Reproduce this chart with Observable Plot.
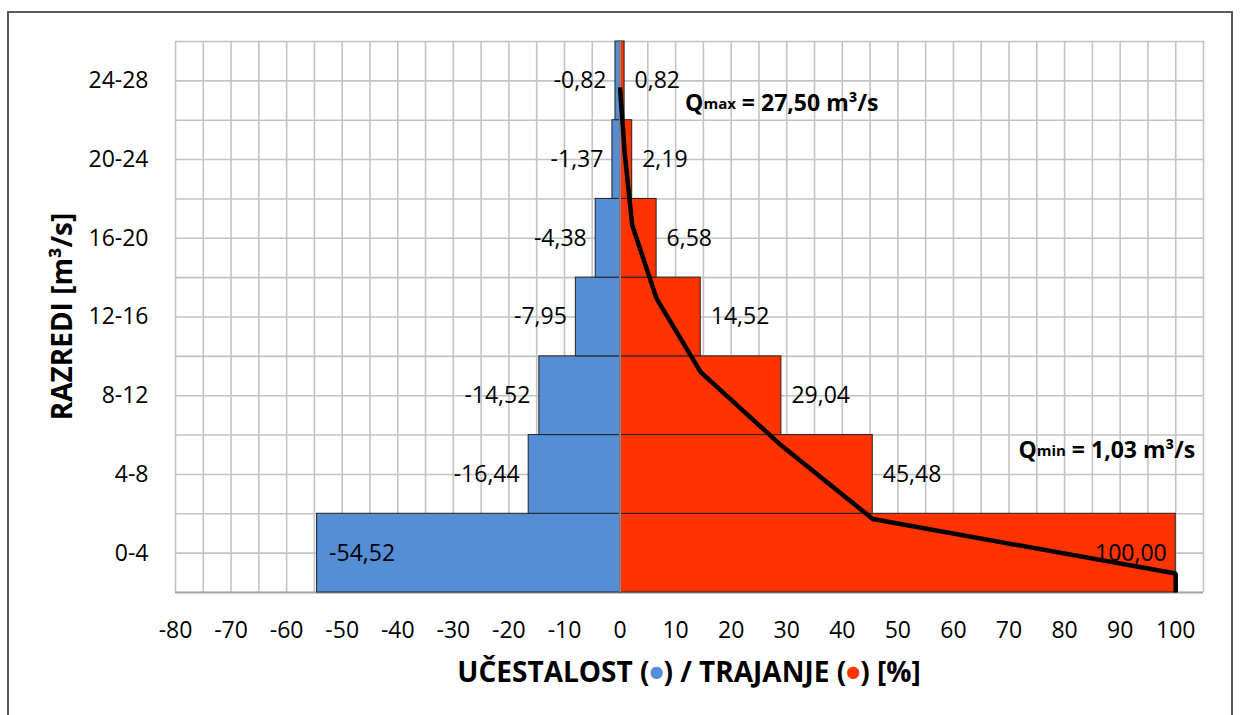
<!DOCTYPE html>
<html><head><meta charset="utf-8">
<script src="https://cdn.jsdelivr.net/npm/d3@7"></script>
<script src="https://cdn.jsdelivr.net/npm/@observablehq/plot@0.6"></script>
<style>
body{margin:0;background:#fff;}
#wrap{position:relative;width:1241px;height:715px;overflow:hidden;background:#fff;}
#border{position:absolute;left:7px;top:11px;width:1226px;height:730px;border:2px solid #595959;box-sizing:border-box;pointer-events:none;}
#wrap svg{position:absolute;left:0;top:0;}
</style></head><body><div id="wrap"><div id="border"></div></div>
<script>
// ---- data ----
const classes = ["0-4","4-8","8-12","12-16","16-20","20-24","24-28"];
const ucestalost = [54.52, 16.44, 14.52, 7.95, 4.38, 1.37, 0.82];   // frequency [%] (plotted to the left)
const trajanje   = [100.00, 45.48, 29.04, 14.52, 6.58, 2.19, 0.82]; // duration [%] (plotted to the right)
const qMin = 1.03, qMax = 27.50;
const xTicks = [-80,-70,-60,-50,-40,-30,-20,-10,0,10,20,30,40,50,60,70,80,90,100];
const xDomain = [-80, 105];
const yDomain = [0, 28];
const secondaryMax = 30; // secondary (discharge) axis maximum used by the duration curve

const BLUE = "#558ED5", RED = "#FF3300", GRID = "#c3c3c3";
const FONT = "'Open Sans', sans-serif";
const fmt = v => v.toFixed(2).replace(".", ",");

const rows = classes.map((c, i) => {
  const [lo, hi] = c.split("-").map(Number);
  return {c, lo, hi, mid: (lo + hi) / 2, u: ucestalost[i], t: trajanje[i]};
});
const labelOf = new Map(rows.map(r => [r.mid, r.c]));

// duration curve: (duration %, discharge)
const curve = [{p: trajanje[0], q: 0}, {p: trajanje[0], q: qMin}]
  .concat(rows.slice(1).map(r => ({p: r.t, q: r.lo})))
  .concat([{p: 0, q: qMax}]);
const toPrimary = q => q * yDomain[1] / secondaryMax;

const gridXs = d3.range(xDomain[0], xDomain[1] + 1, 5);
const gridYs = d3.range(yDomain[0], yDomain[1] + 1, 2);

const chart = Plot.plot({
  width: 1241, height: 715,
  marginLeft: 175, marginRight: 38, marginTop: 41, marginBottom: 123,
  style: {fontFamily: FONT, fontSize: "23px", color: "#000", background: "transparent", overflow: "visible"},
  x: {domain: xDomain, label: null},
  y: {domain: yDomain, label: null},
  marks: [
    Plot.gridX(gridXs, {stroke: GRID, strokeOpacity: 1, strokeWidth: 1.6}),
    Plot.gridY(gridYs, {stroke: GRID, strokeOpacity: 1, strokeWidth: 1.6}),
    Plot.ruleY([yDomain[0]], {stroke: "#a6a6a6", strokeWidth: 2}),
    Plot.rectX(rows, {x1: 0, x2: d => -d.u, y1: "lo", y2: "hi", fill: BLUE, stroke: "#222", strokeWidth: 1}),
    Plot.rectX(rows, {x1: 0, x2: "t", y1: "lo", y2: "hi", fill: RED, stroke: "#222", strokeWidth: 1}),
    Plot.ruleX([0], {stroke: "#8c8c8c", strokeWidth: 1.8}),
    Plot.line(curve, {x: "p", y: d => toPrimary(d.q), stroke: "#000", strokeWidth: 4.5, strokeLinejoin: "miter", strokeLinecap: "butt"}),
    // frequency labels
    Plot.text(rows.filter(d => d.u < 50), {x: d => -d.u, y: "mid", text: d => fmt(-d.u), textAnchor: "end", dx: -9, fill: "#000"}),
    Plot.text(rows.filter(d => d.u >= 50), {x: d => -d.u, y: "mid", text: d => fmt(-d.u), textAnchor: "start", dx: 12, fill: "#000"}),
    // duration labels
    Plot.text(rows.filter(d => d.t < 90), {x: "t", y: "mid", text: d => fmt(d.t), textAnchor: "start", dx: 10, fill: "#000"}),
    Plot.text(rows.filter(d => d.t >= 90), {x: "t", y: "mid", text: d => fmt(d.t), textAnchor: "end", dx: -9, fill: "#000"}),
    Plot.axisX({ticks: xTicks, tickSize: 0, tickPadding: 29, tickFormat: d => String(d), fill: "#000"}),
    Plot.axisY(rows.map(r => r.mid), {tickSize: 0, tickPadding: 27, tickFormat: d => labelOf.get(d), fill: "#000"})
  ]
});
document.getElementById("wrap").appendChild(chart);

// ---- titles and annotations (positioned through the plot scales) ----
const svg = d3.select(chart);
const sx = chart.scale("x"), sy = chart.scale("y");
const plotCenterX = (sx.apply(xDomain[0]) + sx.apply(xDomain[1])) / 2;
const plotCenterY = (sy.apply(yDomain[0]) + sy.apply(yDomain[1])) / 2;

const xt = svg.append("text").attr("x", plotCenterX).attr("y", 682)
  .attr("text-anchor", "middle").attr("font-weight", "bold").attr("font-size", 28).attr("fill", "#000");
xt.append("tspan").text("UČESTALOST (");
xt.append("tspan").text("●").attr("fill", BLUE).attr("font-size", 16).attr("font-family", "DejaVu Sans").attr("dy", -5);
xt.append("tspan").text(") / TRAJANJE (").attr("dy", 5);
xt.append("tspan").text("●").attr("fill", RED).attr("font-size", 16).attr("font-family", "DejaVu Sans").attr("dy", -5);
xt.append("tspan").text(") [%]").attr("dy", 5);

svg.append("text").attr("transform", `translate(72,${plotCenterY}) rotate(-90)`)
  .attr("text-anchor", "middle").attr("font-weight", "bold").attr("font-size", 28).attr("fill", "#000")
  .text("RAZREDI [m³/s]");

function qLabel(sub, value, x, y, anchor) {
  const t = svg.append("text").attr("x", sx.apply(x)).attr("y", sy.apply(y))
    .attr("text-anchor", anchor).attr("font-weight", "bold").attr("font-size", 23)
    .attr("dominant-baseline", "middle").attr("fill", "#000");
  t.append("tspan").text("Q");
  t.append("tspan").text(sub).attr("font-size", 15);
  t.append("tspan").text(` = ${fmt(value)} m³/s`);
}
qLabel("max", qMax, 11.8, 24.75, "start");
qLabel("min", qMin, 103.6, 7.1, "end");
</script>
</body></html>
